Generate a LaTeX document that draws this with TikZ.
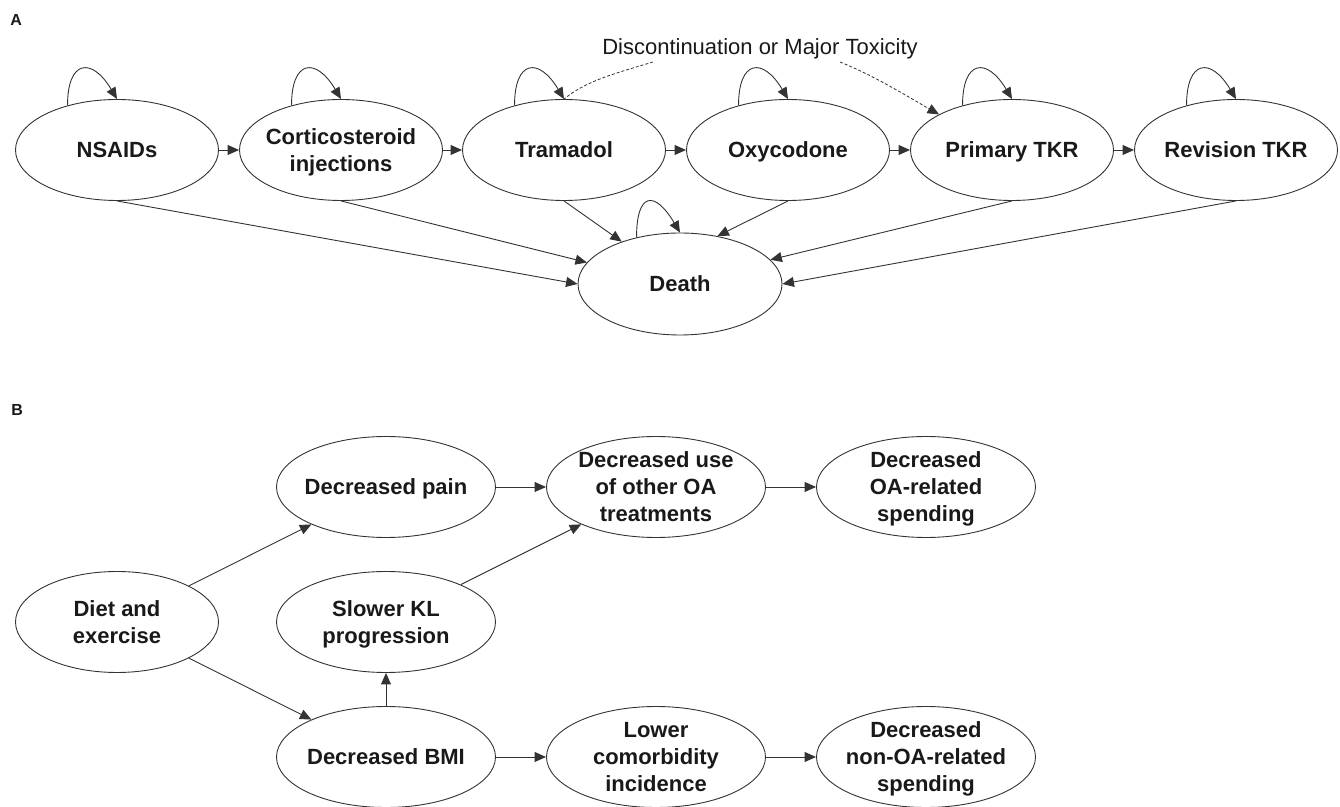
\documentclass[tikz,border=0pt]{standalone}
\usepackage{fontspec}
\setmainfont{Liberation Sans}
\usetikzlibrary{arrows.meta,shapes.geometric}
% lines of a node: first argument = depth below the first baseline (lines-1)*13.5pt
\newcommand\tl[2]{\raisebox{0pt}[7.9pt][#1]{\vtop{\baselineskip=13.5pt\lineskiplimit=-20pt\halign{\hfil##\hfil\cr#2\crcr}}}}
\begin{document}
\begin{tikzpicture}[x=0.5pt,y=0.5pt,
  stA/.style={ellipse,draw=black!80,line width=0.45pt,minimum width=101.5pt,minimum height=50.5pt,
    inner xsep=-30pt,inner ysep=-20pt,font=\fontsize{11}{13.5}\selectfont\bfseries,text=black!90},
  stB/.style={stA,minimum width=109.5pt},
  tipA/.style={-{Triangle[length=5.75pt,width=5pt]}},
  arr/.style={draw=black!80,line width=0.45pt,tipA},
  dsh/.style={draw=black!80,line width=0.4pt,dash pattern=on 1.5pt off 1pt},
  lbl/.style={inner sep=0pt,anchor=west,font=\fontsize{8}{9}\selectfont\bfseries,text=black!90}
]
\useasboundingbox (0,0) rectangle (1340,-807);

% panel labels
\node[lbl] (la) at (10,-20.5) {A};
\node[lbl] (lb) at (11,-409.5) {B};

% ---------- Panel A ----------
\node[stA] (nsaid) at (117,-150) {\tl{0pt}{NSAIDs}};
\node[stA] (cort)  at (341,-150) {\tl{13.5pt}{Corticosteroid\cr injections}};
\node[stA] (tram)  at (564,-150) {\tl{0pt}{Tramadol}};
\node[stA] (oxy)   at (788,-150) {\tl{0pt}{Oxycodone}};
\node[stA] (ptkr)  at (1012,-150) {\tl{0pt}{Primary TKR}};
\node[stA] (rtkr)  at (1236,-150) {\tl{0pt}{Revision TKR}};
\node[stA,minimum width=102pt,minimum height=51pt] (death) at (680,-284) {\tl{0pt}{Death}};

\node[inner sep=0pt,anchor=base,font=\fontsize{11}{13}\selectfont,text=black!90] (disc) at (760,-55) {Discontinuation or Major Toxicity};

\draw[arr] (nsaid) -- (cort);
\draw[arr] (cort) -- (tram);
\draw[arr] (tram) -- (oxy);
\draw[arr] (oxy) -- (ptkr);
\draw[arr] (ptkr) -- (rtkr);

\draw[arr] (nsaid.south) -- (death.west);
\draw[arr] (cort.south) -- (death.167);
\draw[arr] (tram.south) -- (death.144);
\draw[arr] (oxy.south) -- (death.52);
\draw[arr] (ptkr.south) -- (death.15);
\draw[arr] (rtkr.south) -- (death.east);

\foreach \n in {nsaid,cort,tram,oxy,ptkr,rtkr}
  \draw[arr] (\n.138) .. controls +(0,46) and +(-25,42) .. (\n.north);
\draw[arr] (death.133) .. controls +(0,46) and +(-25,42) .. (death.north);

\coordinate (d1) at (653,-62);
\coordinate (d2) at (840,-62);
\draw[dsh] (d1) .. controls +(-40,-12) and +(22,18) .. (tram.north);
\draw[dsh,tipA] (d2) .. controls +(35,-14) and +(-30,17) .. (ptkr.154);

% ---------- Panel B ----------
\node[stA] (diet)  at (117,-622) {\tl{13.5pt}{Diet and\cr exercise}};
\node[stB] (pain)  at (386,-487) {\tl{0pt}{Decreased pain}};
\node[stB] (kl)    at (386,-622) {\tl{13.5pt}{Slower KL\cr progression}};
\node[stB] (bmi)   at (386,-757) {\tl{0pt}{Decreased BMI}};
\node[stB] (use)   at (656,-487) {\tl{27pt}{Decreased use\cr of other OA\cr treatments}};
\node[stB] (oasp)  at (926,-487) {\tl{27pt}{Decreased\cr OA-related\cr spending}};
\node[stB] (com)   at (656,-757) {\tl{27pt}{Lower\cr comorbidity\cr incidence}};
\node[stB] (noasp) at (926,-757) {\tl{27pt}{Decreased\cr non-OA-related\cr spending}};

\draw[arr] (diet) -- (pain);
\draw[arr] (diet) -- (bmi);
\draw[arr] (bmi) -- (kl);
\draw[arr] (kl) -- (use);
\draw[arr] (pain) -- (use);
\draw[arr] (use) -- (oasp);
\draw[arr] (bmi) -- (com);
\draw[arr] (com) -- (noasp);
\end{tikzpicture}
\end{document}
